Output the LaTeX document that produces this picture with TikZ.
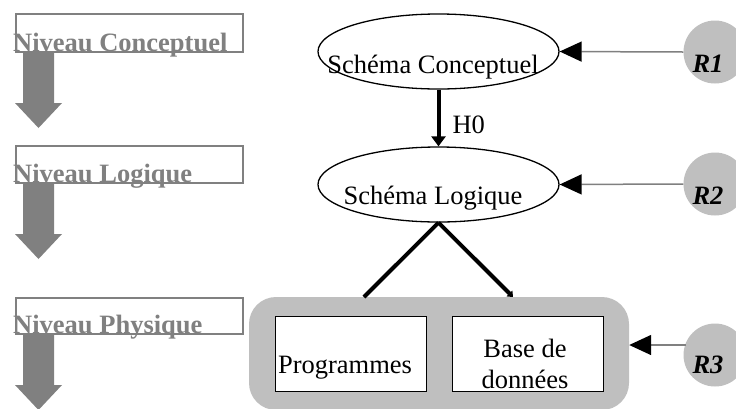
\documentclass[tikz,border=0pt]{standalone}
\usepackage{fontspec}
\setmainfont{Liberation Serif}
\usetikzlibrary{shapes.geometric,arrows.meta,positioning}

\tikzset{
  niveau/.style={draw=gray, line width=1.3pt, minimum width=227, inner sep=0},
  schema/.style={ellipse, draw, line width=1.3pt, minimum width=241, minimum height=75, inner sep=0},
  regle/.style={circle, fill=gray!50, minimum size=63, inner sep=0},
  boite/.style={draw, fill=white, line width=0.8pt, minimum width=151, minimum height=75, inner sep=0},
  texte/.style={anchor=base, inner sep=0},
  fleche/.style={draw=gray, line width=1.5pt, -{Triangle[length=22pt,width=20pt,color=black]}},
}

\begin{document}
\begin{tikzpicture}[x=1pt,y=-1pt,font=\fontsize{26.5}{31}\selectfont]
\useasboundingbox (0,0) rectangle (736,408);
\foreach \c/\h/\b/\nom in {33/38/52/Conceptuel, 164.5/37/183/Logique, 316/36/334/Physique}{
  \node[niveau, minimum height=\h] (n\nom) at (129.5,\c) {};
  \fill[gray] (23,\b) -- (54,\b) -- (54,\b+51) -- (62,\b+51) -- (38.5,\b+76) -- (15,\b+51) -- (23,\b+51) -- cycle;
  \node[texte, anchor=base west, text=gray, font=\fontsize{26.5}{31}\selectfont\bfseries] at (13,\b-1) {Niveau \nom};
}
\node[schema] (sc) at (438.5,51.5) {};
\node[texte] at (433,73) {Schéma Conceptuel};
\node[schema] (sl) at (438.5,184.5) {};
\node[texte] at (433,204) {Schéma Logique};
\draw[line width=4pt, -{Triangle[length=10pt,width=14pt]}] (sc.south) -- (sl.north)
  node[pos=0.62, anchor=west, inner sep=0, xshift=12pt] {H0};

\node[fill=gray!50, rounded corners=27, minimum width=380, minimum height=113, inner sep=0] (phys) at (439,353.5) {};
\node[boite] (prog) at (350.5,353.5) {};
\node[boite] (bd) at (527.5,353.5) {};
\node[texte] at (345,373) {Programmes};
\node[texte, align=center] at (525,388) {Base de\\données};
\coordinate (pg) at (364,297);
\coordinate (pd) at (513,297);
\draw[line width=4pt] (sl.south) -- (pg);
\draw[line width=4pt, -{Triangle[length=5pt,width=8pt]}] (sl.south) -- (pd);

\node[regle] (r1) at (715,52) {};
\node[regle] (r2) at (715,184) {};
\node[regle] (r3) at (715,355) {};
\foreach \y/\r in {72/R1, 204/R2, 373/R3}
  \node[texte, font=\fontsize{26.5}{31}\selectfont\bfseries\itshape] at (708,\y) {\r};
\coordinate (r3g) at (686,345);
\coordinate (physd) at (r3g -| phys.east);
\path
  (r1.west) edge[fleche] (sc.east)
  (r2.west) edge[fleche] (sl.east)
  (r3g) edge[fleche] (physd);
\end{tikzpicture}
\end{document}
